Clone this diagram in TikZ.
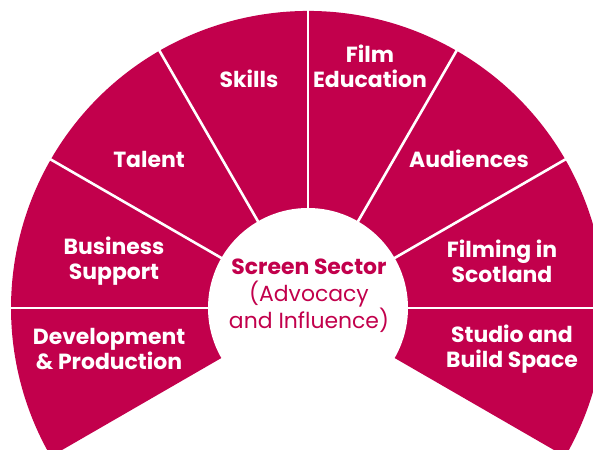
\documentclass[tikz,border=0pt]{standalone}
\usepackage{fontspec}
\setmainfont{Poppins}
\usetikzlibrary{calc}
\definecolor{mag}{RGB}{194,0,76}
\tikzset{
  seglabel/.style={text=white,font=\bfseries\fontsize{22}{25}\selectfont,align=center,inner sep=0pt},
  divider/.style={draw=white,line width=2.6bp},
}
\begin{document}
\begin{tikzpicture}[x=1bp,y=1bp]
\useasboundingbox (0,0) rectangle (593,450);
\clip (0,0) rectangle (593,450);
\coordinate (c) at (308,142);
\fill[mag] (c) -- ($(c)+(-30:297)$) arc[start angle=-30,end angle=210,radius=297] -- cycle;
\foreach \a in {0,30,60,90,120,150,180}{
  \draw[divider] (c) -- ($(c)+(\a:320)$);
}
\fill[white] (c) circle[radius=100];
\node[seglabel] (skills) at (249,371) {Skills};
\node[seglabel] (filmed) at (370,384) {Film\\Education};
\node[seglabel] (talent) at (149,291) {Talent};
\node[seglabel] (aud) at (469,291) {Audiences};
\node[seglabel] (bus) at (114,189) {Business\\Support};
\node[seglabel] (filming) at (502,189) {Filming in\\Scotland};
\node[seglabel] (dev) at (109,101) {Development\\\& Production};
\node[seglabel] (studio) at (512,101) {Studio and\\Build Space};
\node[text=mag,align=center,inner sep=0pt,font=\fontsize{22}{27}\selectfont] (centre) at (309,154) {\textbf{Screen Sector}\\(Advocacy\\and Influence)};
\end{tikzpicture}
\end{document}
